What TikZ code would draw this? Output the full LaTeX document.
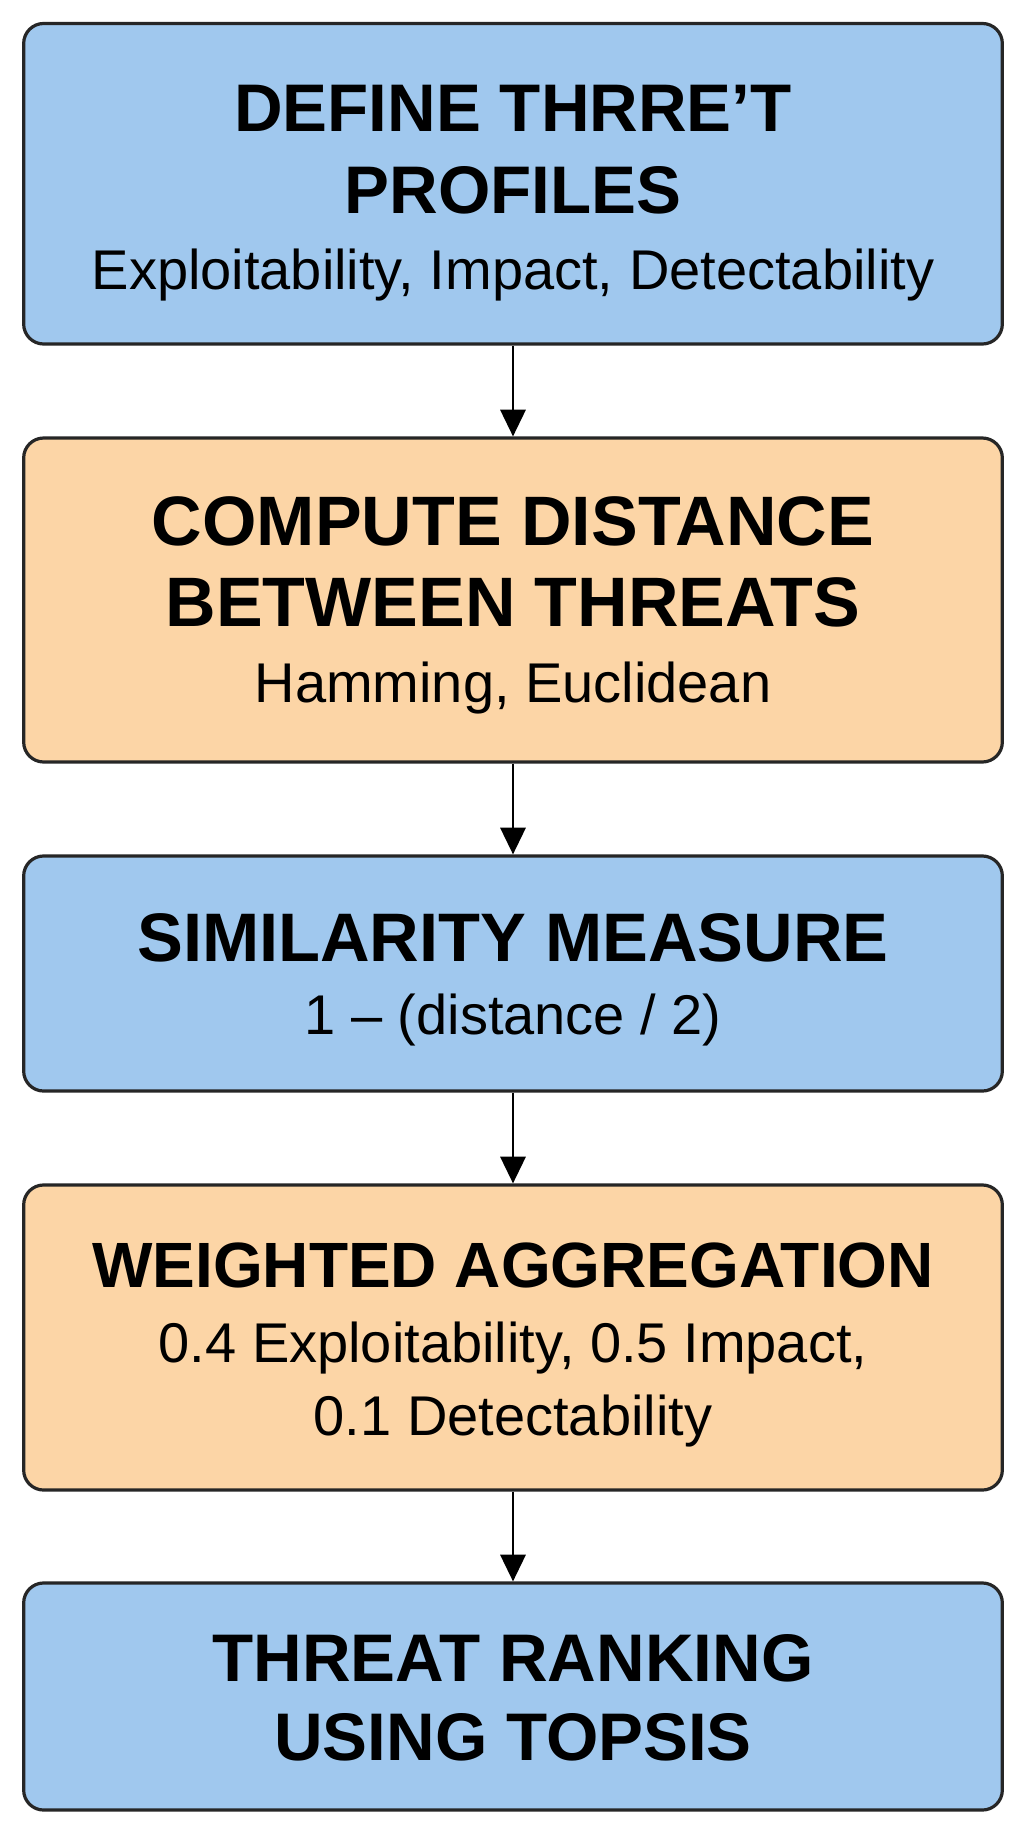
\documentclass[tikz,border=0pt]{standalone}
\usepackage{fontspec}
\setmainfont{Liberation Sans}
\usetikzlibrary{arrows.meta}
\definecolor{boxblue}{RGB}{160,200,238}
\definecolor{boxorange}{RGB}{252,213,166}
\begin{document}
\begin{tikzpicture}[x=0.75pt,y=-0.75pt,
  box/.style={draw=black!85, line width=2.4pt, rounded corners=15pt, minimum width=734pt, inner sep=0pt},
  ttl/.style={font=\bfseries\fontsize{#1}{#1}\selectfont, anchor=base, inner sep=0pt},
  ttl/.default=50,
  sub/.style={font=\fontsize{42}{42}\selectfont, anchor=base, inner sep=0pt},
  arr/.style={-{Triangle[width=19pt,length=20pt]}, line width=1.5pt, black}]
\useasboundingbox[fill=white] (0,0) rectangle (1026,1842);

\node[box, fill=boxblue,   minimum height=240.4pt] (b1) at (513,183.75) {};
\node[box, fill=boxorange, minimum height=243pt]   (b2) at (513,600) {};
\node[box, fill=boxblue,   minimum height=176.3pt] (b3) at (513,973.5) {};
\node[box, fill=boxorange, minimum height=228.8pt] (b4) at (513,1337.5) {};
\node[box, fill=boxblue,   minimum height=170.3pt] (b5) at (513,1696.5) {};

\node[ttl=50.5] (t1a) at (513,131) {DEFINE THRRE’T};
\node[ttl=50.5] (t1b) at (513,213) {PROFILES};
\node[sub]      (s1)  at (513,289) {Exploitability, Impact, Detectability};

\node[ttl=52.5] (t2a) at (513,545) {COMPUTE DISTANCE};
\node[ttl=52.5] (t2b) at (513,626) {BETWEEN THREATS};
\node[sub]      (s2)  at (513,702) {Hamming, Euclidean};

\node[ttl=51.5] (t3a) at (513,961) {SIMILARITY MEASURE};
\node[sub]      (s3)  at (513,1034) {1 – (distance / 2)};

\node[ttl=48]   (t4a) at (513,1287) {WEIGHTED AGGREGATION};
\node[sub]      (s4a) at (513,1362) {0.4 Exploitability, 0.5 Impact,};
\node[sub]      (s4b) at (513,1435) {0.1 Detectability};

\node[ttl=50.5] (t5a) at (513,1681) {THREAT RANKING};
\node[ttl=50.5] (t5b) at (513,1760) {USING TOPSIS};

\draw[arr] (b1.south) -- (b2.north);
\draw[arr] (b2.south) -- (b3.north);
\draw[arr] (b3.south) -- (b4.north);
\draw[arr] (b4.south) -- (b5.north);
\end{tikzpicture}
\end{document}
